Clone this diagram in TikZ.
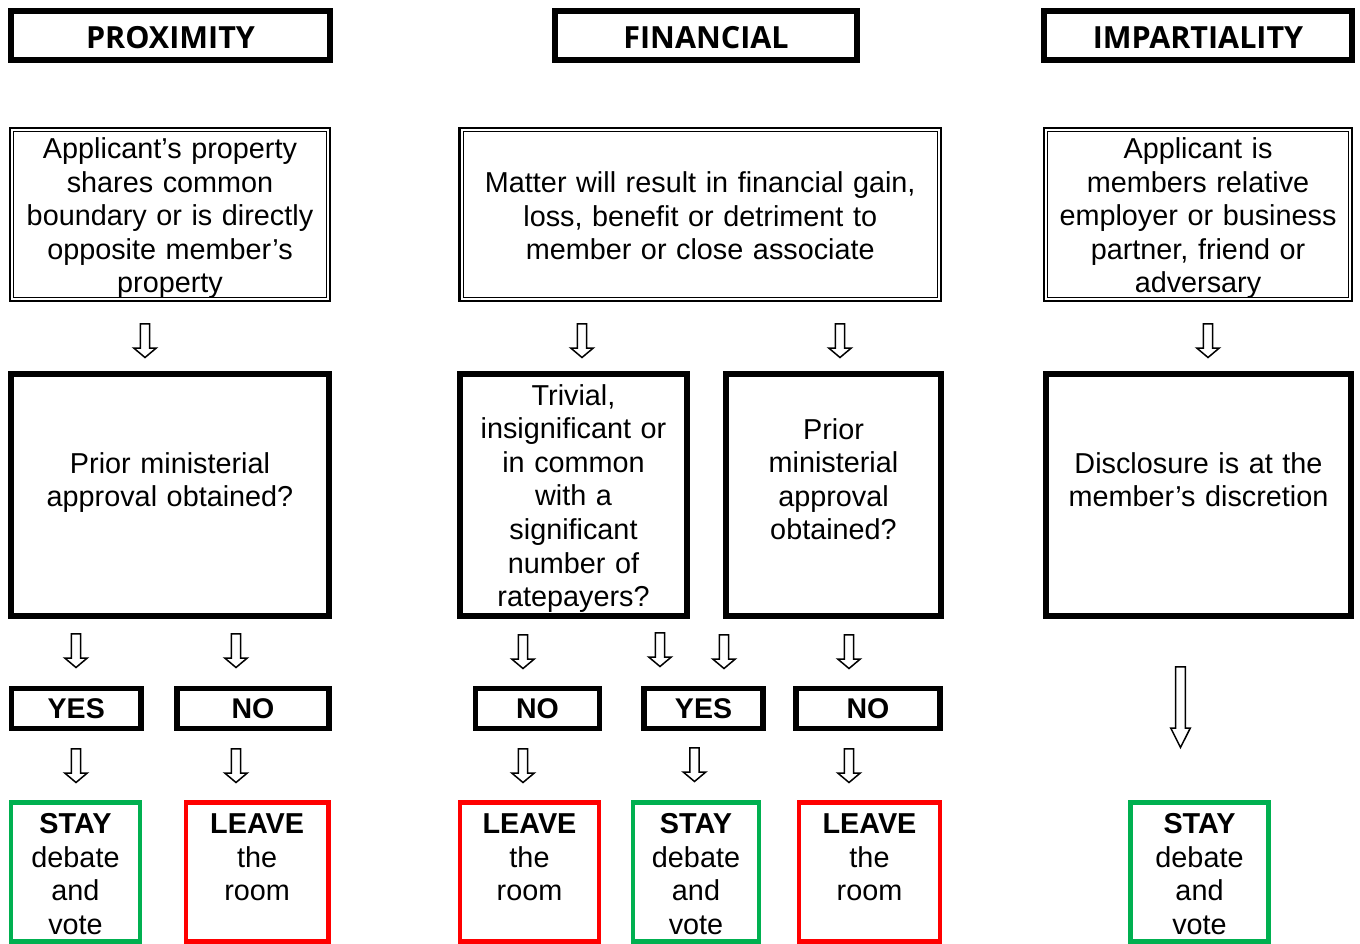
\documentclass[tikz,border=0pt]{standalone}
\usepackage{fontspec}
\setmainfont{Liberation Sans}
\newfontfamily\hdrfont{Open Sans}
\definecolor{staygreen}{RGB}{0,176,80}
\definecolor{leavered}{RGB}{255,0,0}
\tikzset{
  hdrbox/.style={draw, line width=6pt, inner sep=0pt, minimum height=49pt,
    font=\hdrfont\bfseries\fontsize{30.5}{36}\selectfont, text height=25.5pt, text depth=0pt},
  dblbox/.style={draw, line width=2.5pt, inner sep=0pt, outer sep=0pt, minimum height=173pt},
  qbox/.style={draw, line width=6pt, inner sep=0pt, minimum height=242pt},
  ansbox/.style={draw, line width=5.5pt, inner sep=0pt, minimum height=40pt,
    font=\bfseries\fontsize{28.5}{33}\selectfont, text height=20.4pt, text depth=0pt},
  staybox/.style={draw=staygreen, line width=4.5pt, inner sep=0pt, minimum height=139pt},
  leavebox/.style={draw=leavered, line width=4.5pt, inner sep=0pt, minimum height=139pt},
  txt/.style={inner sep=0pt, align=center, text width=#1, anchor=base,
    font=\fontsize{28.8}{33.6}\selectfont},
  pics/dnarrow/.style={code={
    \draw[line width=1.5pt, fill=white, line join=miter]
      (-4.7,0.75) -- (4.7,0.75) -- (4.7,25) -- (11.3,25) -- (0,34.5) -- (-11.3,25) -- (-4.7,25) -- cycle;}},
  pics/longdnarrow/.style={code={
    \draw[line width=1.5pt, fill=white, line join=miter]
      (-4.8,0.75) -- (4.8,0.75) -- (4.8,62) -- (9.8,62) -- (0,81.5) -- (-9.8,62) -- (-4.8,62) -- cycle;}}
}
\begin{document}
\begin{tikzpicture}[x=1pt,y=-1pt]
\useasboundingbox (0,0) rectangle (1360,944);

% headers
\node[hdrbox, minimum width=319pt] (hP) at (170.5,35.5) {PROXIMITY};
\node[hdrbox, minimum width=302pt] (hF) at (706,35.5) {FINANCIAL};
\node[hdrbox, minimum width=308pt] (hI) at (1198,35.5) {IMPARTIALITY};

% double-border boxes
\node[dblbox, minimum width=320pt] (dP) at (170,214.5) {};
\node[dblbox, minimum width=481.5pt] (dF) at (700.25,214.5) {};
\node[dblbox, minimum width=308pt] (dI) at (1198,214.5) {};
\foreach \n in {dP,dF,dI}{
  \draw[line width=1pt] ([shift={(3.5,3.5)}]\n.north west) rectangle ([shift={(-3.5,-3.5)}]\n.south east);
}
\node[txt=310pt] (tP) at (170,158.5) {Applicant’s property\\shares common\\boundary or is directly\\opposite member’s\\property};
\node[txt=470pt] (tF) at (700.25,192.5) {Matter will result in financial gain,\\loss, benefit or detriment to\\member or close associate};
\node[txt=300pt] (tI) at (1198,158.5) {Applicant is\\members relative\\employer or business\\partner, friend or\\adversary};

% arrows row 2 -> 3
\pic (a1) at (145,323) {dnarrow};
\pic (a2) at (582,323) {dnarrow};
\pic (a3) at (840,323) {dnarrow};
\pic (a4) at (1208,323) {dnarrow};

% question boxes
\node[qbox, minimum width=318pt] (qP) at (170,495) {};
\node[qbox, minimum width=227pt] (qT) at (573.5,495) {};
\node[qbox, minimum width=215pt] (qM) at (833.5,495) {};
\node[qbox, minimum width=305pt] (qI) at (1198.5,495) {};
\node[txt=300pt] (tqP) at (170,473) {Prior ministerial\\approval obtained?};
\node[txt=220pt] (tqT) at (573.5,405) {Trivial,\\insignificant or\\in common\\with a\\significant\\number of\\ratepayers?};
\node[txt=200pt] (tqM) at (833.5,439) {Prior\\ministerial\\approval\\obtained?};
\node[txt=300pt] (tqI) at (1198.5,473) {Disclosure is at the\\member’s discretion};

% arrows row 3 -> 4
\pic (b1) at (76,633) {dnarrow};
\pic (b2) at (236,633) {dnarrow};
\pic (b3) at (523,634) {dnarrow};
\pic (b4) at (660,632) {dnarrow};
\pic (b5) at (724,634) {dnarrow};
\pic (b6) at (849,634) {dnarrow};
\pic (b7) at (1180.5,666) {longdnarrow};

% yes / no
\node[ansbox, minimum width=129.5pt] (y1) at (76.25,708.7) {YES};
\node[ansbox, minimum width=152pt] (n1) at (253,708.7) {NO};
\node[ansbox, minimum width=124pt] (n2) at (537.5,708.7) {NO};
\node[ansbox, minimum width=119pt] (y2) at (703.5,708.7) {YES};
\node[ansbox, minimum width=144pt] (n3) at (868,708.7) {NO};

% arrows row 4 -> 5
\pic (c1) at (76,748) {dnarrow};
\pic (c2) at (236,748) {dnarrow};
\pic (c3) at (523,748) {dnarrow};
\pic (c4) at (694.5,747) {dnarrow};
\pic (c5) at (849,748) {dnarrow};

% outcomes
\node[staybox, minimum width=129pt] (o1) at (75.5,872) {};
\node[leavebox, minimum width=142.7pt] (o2) at (257.15,872) {};
\node[leavebox, minimum width=139pt] (o3) at (529.5,872) {};
\node[staybox, minimum width=126pt] (o4) at (696,872) {};
\node[leavebox, minimum width=141pt] (o5) at (869.5,872) {};
\node[staybox, minimum width=138pt] (o6) at (1199.5,872) {};
\node[txt=125pt] (to1) at (75.5,833.5) {\textbf{STAY}\\debate\\and\\vote};
\node[txt=135pt] (to2) at (257.15,833.5) {\textbf{LEAVE}\\the\\room};
\node[txt=135pt] (to3) at (529.5,833.5) {\textbf{LEAVE}\\the\\room};
\node[txt=120pt] (to4) at (696,833.5) {\textbf{STAY}\\debate\\and\\vote};
\node[txt=135pt] (to5) at (869.5,833.5) {\textbf{LEAVE}\\the\\room};
\node[txt=130pt] (to6) at (1199.5,833.5) {\textbf{STAY}\\debate\\and\\vote};
\end{tikzpicture}
\end{document}
